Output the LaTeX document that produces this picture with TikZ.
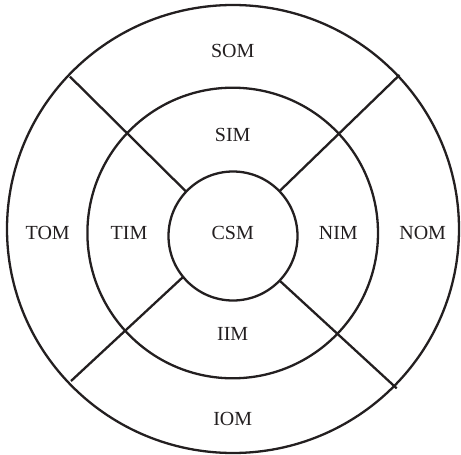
\documentclass[tikz,border=0pt]{standalone}
\usepackage{fontspec}
\setmainfont{Liberation Serif}
\definecolor{ink}{HTML}{231F20}
\begin{document}
\begin{tikzpicture}[x=1pt,y=-1pt,
  ring/.style={draw=ink,line width=2.3pt},
  lbl/.style={text=ink,font=\fontsize{20}{24}\selectfont,inner sep=0pt}]
\useasboundingbox (0,0) rectangle (461,455);
% circles
\draw[ring] (233,229) ellipse [x radius=226, y radius=224];
\draw[ring] (232.7,233) circle [radius=145.3];
\draw[ring] (233,236) circle [radius=64.5];
% dividers
\coordinate (ulo) at (70,76.7);   \coordinate (uli) at (185.5,191);
\coordinate (uro) at (399.5,75);  \coordinate (uri) at (280,190.7);
\coordinate (llo) at (71,381);    \coordinate (lli) at (182.7,277.3);
\coordinate (lro) at (396.7,388.3); \coordinate (lri) at (280,281);
\draw[ring] (ulo) -- (uli);
\draw[ring] (uro) -- (uri);
\draw[ring] (llo) -- (lli);
\draw[ring] (lro) -- (lri);
% labels
\node[lbl] (som) at (232.7,50.7) {SOM};
\node[lbl] (sim) at (232.7,135) {SIM};
\node[lbl] (tom) at (47.7,232.7) {TOM};
\node[lbl] (tim) at (129,232.7) {TIM};
\node[lbl] (csm) at (232.7,232.7) {CSM};
\node[lbl] (nim) at (338.3,232.7) {NIM};
\node[lbl] (nom) at (422.7,232.7) {NOM};
\node[lbl] (iim) at (232.7,334.3) {IIM};
\node[lbl] (iom) at (232.7,419.3) {IOM};
\end{tikzpicture}
\end{document}
